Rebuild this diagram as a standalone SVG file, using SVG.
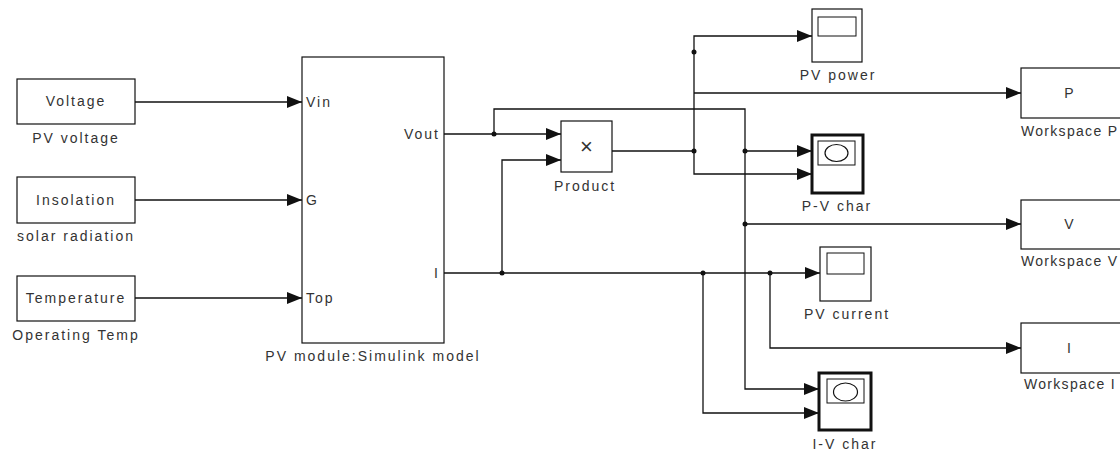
<svg xmlns="http://www.w3.org/2000/svg" width="1120" height="454" viewBox="0 0 1120 454">
<defs>
<marker id="arr" markerUnits="userSpaceOnUse" viewBox="0 0 15 12" refX="15" refY="6" markerWidth="15" markerHeight="12" orient="auto">
<path d="M0,0 L15,6 L0,12 Z" fill="#111"/>
</marker>
</defs>
<style>
.blk{fill:#fff;stroke:#111;stroke-width:1.2}
.xy{fill:#fff;stroke:#111;stroke-width:3}
.in{fill:#fff;stroke:#111;stroke-width:1}
.t{font-family:"Liberation Sans",Arial,sans-serif;font-size:14px;fill:#333;letter-spacing:2px}
.ws{letter-spacing:1.3px}
.m{text-anchor:middle}
.e{text-anchor:end}
.w{fill:none;stroke:#111;stroke-width:1.3}
.a{marker-end:url(#arr)}
.d{fill:#111}
</style>
<rect width="1120" height="454" fill="#fff"/>

<g id="connectors">
<path class="w a" d="M135,102 H302"/>
<path class="w a" d="M135,200 H302"/>
<path class="w a" d="M135,298 H302"/>
<path class="w a" d="M444,134 H561"/>
<path class="w a" d="M494,134 V109 H745 V389 H819"/>
<path class="w a" d="M745,151 H812"/>
<path class="w a" d="M745,224 H1021"/>
<path class="w a" d="M444,273 H820"/>
<path class="w a" d="M502,273 V160 H561"/>
<path class="w a" d="M703,273 V413 H819"/>
<path class="w a" d="M770,273 V348 H1021"/>
<path class="w" d="M612,151 H694"/>
<path class="w a" d="M694,151 V36 H812"/>
<path class="w a" d="M694,151 V174 H812"/>
<path class="w a" d="M694,93 H1021"/>
<circle class="d" cx="494" cy="134" r="2.5"/>
<circle class="d" cx="502" cy="273" r="2.5"/>
<circle class="d" cx="694" cy="52" r="2.5"/>
<circle class="d" cx="694" cy="151" r="2.5"/>
<circle class="d" cx="745" cy="151" r="2.5"/>
<circle class="d" cx="745" cy="224" r="2.5"/>
<circle class="d" cx="703" cy="273" r="2.5"/>
<circle class="d" cx="770" cy="273" r="2.5"/>
</g>

<g id="voltage">
<rect class="blk" x="17" y="79" width="118" height="45"/>
<text class="t m" x="76" y="106">Voltage</text>
<text class="t m" x="76" y="143">PV voltage</text>
</g>
<g id="insolation">
<rect class="blk" x="17" y="177" width="118" height="46"/>
<text class="t m" x="76" y="205">Insolation</text>
<text class="t m" x="76" y="241">solar radiation</text>
</g>
<g id="temperature">
<rect class="blk" x="17" y="276" width="118" height="45"/>
<text class="t m" x="76" y="303">Temperature</text>
<text class="t m" x="76" y="340">Operating Temp</text>
</g>
<g id="pv-module">
<rect class="blk" x="302" y="57" width="142" height="286"/>
<text class="t" x="306" y="107">Vin</text>
<text class="t" x="306" y="205">G</text>
<text class="t" x="306" y="303">Top</text>
<text class="t e" x="440" y="139">Vout</text>
<text class="t e" x="440" y="278">I</text>
<text class="t m" x="373" y="361">PV module:Simulink model</text>
</g>
<g id="product">
<rect class="blk" x="561" y="121" width="51" height="51"/>
<text class="t m" x="586.5" y="154" style="letter-spacing:0;font-size:22px">×</text>
<text class="t m" x="585" y="191">Product</text>
</g>
<g id="pv-power">
<rect class="blk" x="812" y="9" width="50" height="53"/>
<rect class="in" x="818" y="17" width="38" height="19"/>
<text class="t m" x="838" y="80">PV power</text>
</g>
<g id="pv-char">
<rect class="xy" x="812" y="135" width="51" height="58"/>
<rect class="in" x="818" y="141" width="37" height="24"/>
<ellipse cx="836.5" cy="153" rx="11.5" ry="8.5" fill="none" stroke="#111" stroke-width="1.2"/>
<text class="t m" x="837" y="211">P-V char</text>
</g>
<g id="pv-current">
<rect class="blk" x="820" y="247" width="51" height="54"/>
<rect class="in" x="827" y="253" width="37" height="21"/>
<text class="t m" x="847" y="319">PV current</text>
</g>
<g id="iv-char">
<rect class="xy" x="819" y="373" width="52" height="57"/>
<rect class="in" x="827" y="379" width="37" height="24"/>
<ellipse cx="845.5" cy="392" rx="12" ry="9" fill="none" stroke="#111" stroke-width="1.2"/>
<text class="t m" x="845" y="449">I-V char</text>
</g>
<g id="workspace-p">
<rect class="blk" x="1021" y="68" width="102" height="50"/>
<text class="t m" x="1070" y="98">P</text>
<text class="t ws" x="1021" y="136">Workspace P</text>
</g>
<g id="workspace-v">
<rect class="blk" x="1021" y="200" width="102" height="49"/>
<text class="t m" x="1070" y="229">V</text>
<text class="t ws" x="1021" y="266">Workspace V</text>
</g>
<g id="workspace-i">
<rect class="blk" x="1021" y="323" width="102" height="50"/>
<text class="t m" x="1070" y="353">I</text>
<text class="t ws" x="1024" y="389">Workspace I</text>
</g>
</svg>
